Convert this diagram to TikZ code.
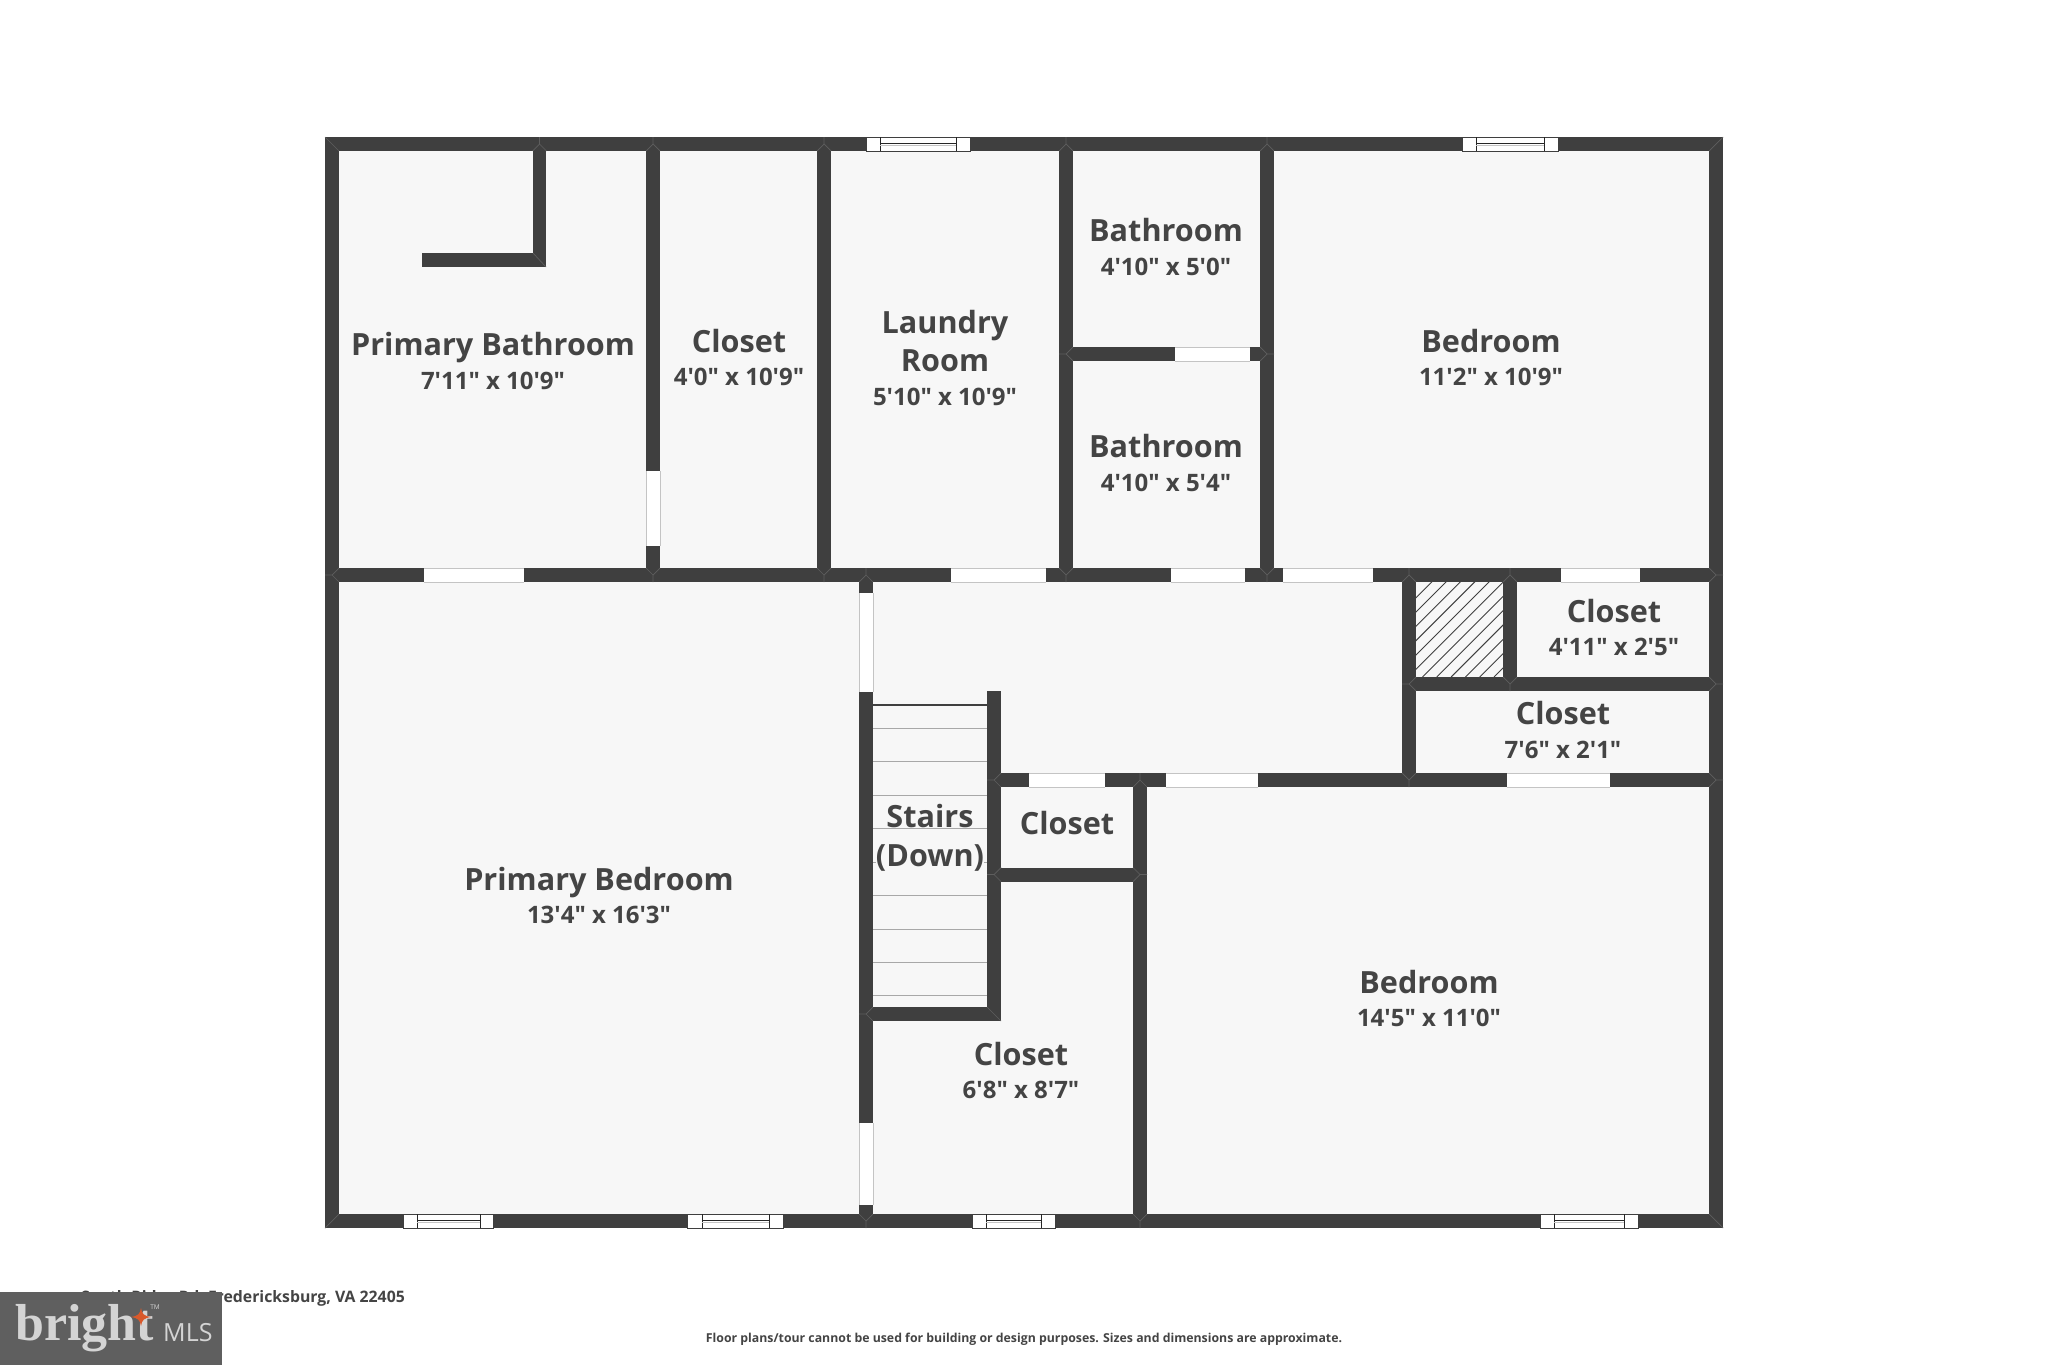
\documentclass[tikz,border=0pt]{standalone}
\usepackage{fontspec}
\newfontfamily\planfont{Open Sans}
\newfontfamily\logofont{Liberation Serif}
\definecolor{wallc}{HTML}{3F3F3F}
\definecolor{roomc}{HTML}{F7F7F7}
\definecolor{edgec}{HTML}{C4C4C4}
\definecolor{seamc}{HTML}{5E5E5E}
\definecolor{labelc}{HTML}{444444}
\definecolor{stairc}{HTML}{A8A8A8}
\definecolor{logoc}{HTML}{5F5F5F}
\definecolor{logot}{HTML}{D4D4D4}
\definecolor{stain}{HTML}{D9592B}
\tikzset{
  title/.style={text=labelc,font=\planfont\fontsize{30.6}{32}\selectfont\bfseries,inner sep=0pt,anchor=center,xshift=1pt},
  dims/.style={text=labelc,font=\planfont\fontsize{24}{26}\selectfont\bfseries,inner sep=0pt,anchor=center,xshift=1pt},
  seam/.style={draw=seamc,line width=0.7pt},
  winline/.style={draw=black!85,line width=1pt},
}
\newcommand\wallrect[4]{\fill[wallc] (#1,#2) rectangle (#3,#4);}
\newcommand\hdoor[3]{\fill[white] (#1,#2) rectangle (#3,#2+14);
  \draw[edgec,line width=1pt] (#1,#2) -- (#3,#2) (#1,#2+14) -- (#3,#2+14);}
\newcommand\vdoor[3]{\fill[white] (#1,#2) rectangle (#1+14,#3);
  \draw[edgec,line width=1pt] (#1,#2) -- (#1,#3) (#1+14,#2) -- (#1+14,#3);}
\newcommand\hwin[5]{\fill[white] (#1,#5) rectangle (#4,#5+14);
  \draw[wallc,line width=0.8pt] (#1,#5) -- (#4,#5) -- (#4,#5+14) -- (#1,#5+14) -- cycle;
  \draw[winline] (#2,#5) -- (#2,#5+14) (#3,#5) -- (#3,#5+14);
  \draw[winline] (#2,#5+6.6) -- (#3,#5+6.6);
  \draw[edgec,line width=0.8pt] (#2,#5+8.4) -- (#3,#5+8.4);}
\newcommand\tj[4]{\draw[seam] ({#1+7*#3+7*#4},{#2+7*#4+7*#3}) -- (#1,#2) -- ({#1+7*#3-7*#4},{#2+7*#4-7*#3}) (#1,#2) -- ({#1-7*#3},{#2-7*#4});}
\begin{document}
\begin{tikzpicture}[x=1pt,y=-1pt]
\useasboundingbox (0,0) rectangle (2048,1365);
\fill[white] (0,0) rectangle (2048,1365);
\fill[roomc] (325,137) rectangle (1723,1228);
% stairs
\foreach \yy in {728,761,795,828,862,895,929,962,995}{\draw[stairc,line width=1pt] (873,\yy) -- (987,\yy);}
\draw[wallc,line width=2.4pt] (873,705) -- (987,705);
% hatch
\begin{scope}
\clip (1416,582) rectangle (1503,677);
\foreach \k in {0,...,16}{\draw[wallc,line width=0.9pt] ({1336.7+\k*14.3},677) -- ({1436.7+\k*14.3},577);}
\end{scope}
% walls
\wallrect{325}{137}{1723}{151}
\wallrect{325}{1214}{1723}{1228}
\wallrect{325}{137}{339}{1228}
\wallrect{1709}{137}{1723}{1228}
\wallrect{533}{151}{546}{267}
\wallrect{422}{253}{546}{267}
\wallrect{646}{151}{660}{582}
\wallrect{817}{151}{831}{582}
\wallrect{1059}{151}{1073}{582}
\wallrect{1260}{151}{1274}{582}
\wallrect{339}{568}{1709}{582}
\wallrect{1073}{347}{1260}{361}
\wallrect{859}{582}{873}{1214}
\wallrect{987}{691}{1001}{1021}
\wallrect{873}{1007}{1001}{1021}
\wallrect{1001}{773}{1709}{787}
\wallrect{1402}{582}{1416}{787}
\wallrect{1503}{582}{1517}{677}
\wallrect{1416}{677}{1709}{691}
\wallrect{1133}{787}{1147}{1214}
\wallrect{1001}{867.5}{1133}{881.5}
% junction seams
\tj{539.5}{144}{0}{1}\tj{653}{144}{0}{1}\tj{824}{144}{0}{1}\tj{1066}{144}{0}{1}\tj{1267}{144}{0}{1}
\tj{653}{575}{0}{-1}\tj{824}{575}{0}{-1}\tj{1066}{575}{0}{-1}\tj{1267}{575}{0}{-1}
\tj{866}{575}{0}{1}\tj{1409}{575}{0}{1}\tj{1510}{575}{0}{1}
\tj{332}{575}{1}{0}\tj{1716}{575}{-1}{0}\tj{1716}{684}{-1}{0}\tj{1716}{780}{-1}{0}
\tj{1066}{354}{1}{0}\tj{1267}{354}{-1}{0}
\tj{1409}{684}{1}{0}\tj{1510}{684}{0}{-1}\tj{1409}{780}{0}{-1}
\tj{866}{1221}{0}{-1}\tj{1140}{1221}{0}{-1}
\tj{994}{780}{1}{0}\tj{994}{874.5}{1}{0}\tj{1140}{780}{0}{1}\tj{1140}{874.5}{-1}{0}\tj{866}{1014}{1}{0}
\draw[seam] (325,137) -- (339,151) (1723,137) -- (1709,151) (325,1228) -- (339,1214) (1723,1228) -- (1709,1214)
  (546,267) -- (533,253) (1001,1021) -- (987,1007);
% doors
\hdoor{424}{568}{524}
\hdoor{951}{568}{1046}
\hdoor{1171}{568}{1245}
\hdoor{1283}{568}{1373}
\hdoor{1561}{568}{1640}
\hdoor{1175}{347}{1250}
\hdoor{1029}{773}{1105}
\hdoor{1166}{773}{1258}
\hdoor{1507}{773}{1610}
\vdoor{646}{471}{546}
\vdoor{859}{593}{692}
\vdoor{859}{1123}{1205}
% windows
\hwin{866}{880}{956}{970}{137}
\hwin{1462}{1476}{1544}{1558}{137}
\hwin{403}{417}{480}{493}{1214}
\hwin{687}{702}{769}{783}{1214}
\hwin{972}{986}{1041}{1055}{1214}
\hwin{1540}{1554}{1624}{1638}{1214}
% labels
\node[title] (pbathT) at (492,348) {Primary Bathroom};
\node[dims] (pbathD) at (492,381) {7'11" x 10'9"};
\node[title] (closetAT) at (738,341) {Closet};
\node[dims] (closetAD) at (738,377) {4'0" x 10'9"};
\node[title] (laundryT) at (944,325.5) {Laundry};
\node[title] (roomT) at (944,361) {Room};
\node[dims] (laundryD) at (944,397) {5'10" x 10'9"};
\node[title] (bathAT) at (1165,230) {Bathroom};
\node[dims] (bathAD) at (1165,267) {4'10" x 5'0"};
\node[title] (bathBT) at (1165,446) {Bathroom};
\node[dims] (bathBD) at (1165,483) {4'10" x 5'4"};
\node[title] (bedAT) at (1490,341) {Bedroom};
\node[dims] (bedAD) at (1490,377) {11'2" x 10'9"};
\node[title] (closetBT) at (1613,611) {Closet};
\node[dims] (closetBD) at (1613,647) {4'11" x 2'5"};
\node[title] (closetCT) at (1562,713) {Closet};
\node[dims] (closetCD) at (1562,750) {7'6" x 2'1"};
\node[title,fill=roomc] (stairsT) at (929,816) {Stairs};
\node[title,fill=roomc] (downT) at (929,857.5) {(Down)};
\node[title] (closetDT) at (1066,823) {Closet};
\node[title] (pbedT) at (598,883) {Primary Bedroom};
\node[dims] (pbedD) at (598,915) {13'4" x 16'3"};
\node[title] (bedBT) at (1428,982) {Bedroom};
\node[dims] (bedBD) at (1428,1018) {14'5" x 11'0"};
\node[title] (closetET) at (1020,1054) {Closet};
\node[dims] (closetED) at (1020,1090) {6'8" x 8'7"};
\node[text=labelc,font=\planfont\fontsize{15.8}{18}\selectfont\bfseries,inner sep=0pt,anchor=east] (addr) at (405,1298) {South Ridge Rd, Fredericksburg, VA 22405};
\node[text=labelc,font=\planfont\fontsize{12.3}{15}\selectfont\bfseries,inner sep=0pt,anchor=center] (note) at (1024,1339) {Floor plans/tour cannot be used for building or design purposes. Sizes and dimensions are approximate.};
% logo
\fill[logoc] (0,1292) rectangle (222,1365);
\node[text=logot,font=\logofont\bfseries\fontsize{52}{54}\selectfont,inner sep=0pt,anchor=base west] (bright) at (15,1340) {bright};
\node[text=logot,font=\planfont\fontsize{25}{28}\selectfont,inner sep=0pt,anchor=base west] (mls) at (163,1341) {MLS};
\node[text=logot,font=\planfont\fontsize{6.5}{8}\selectfont,inner sep=0pt,anchor=center] (tm) at (155,1307) {TM};
\fill[stain] (141,1308) .. controls (142,1314) and (144,1316) .. (151,1317) .. controls (144,1318) and (142,1320) .. (141,1326) .. controls (140,1320) and (138,1318) .. (131,1317) .. controls (138,1316) and (140,1314) .. (141,1308) -- cycle;
\end{tikzpicture}
\end{document}
